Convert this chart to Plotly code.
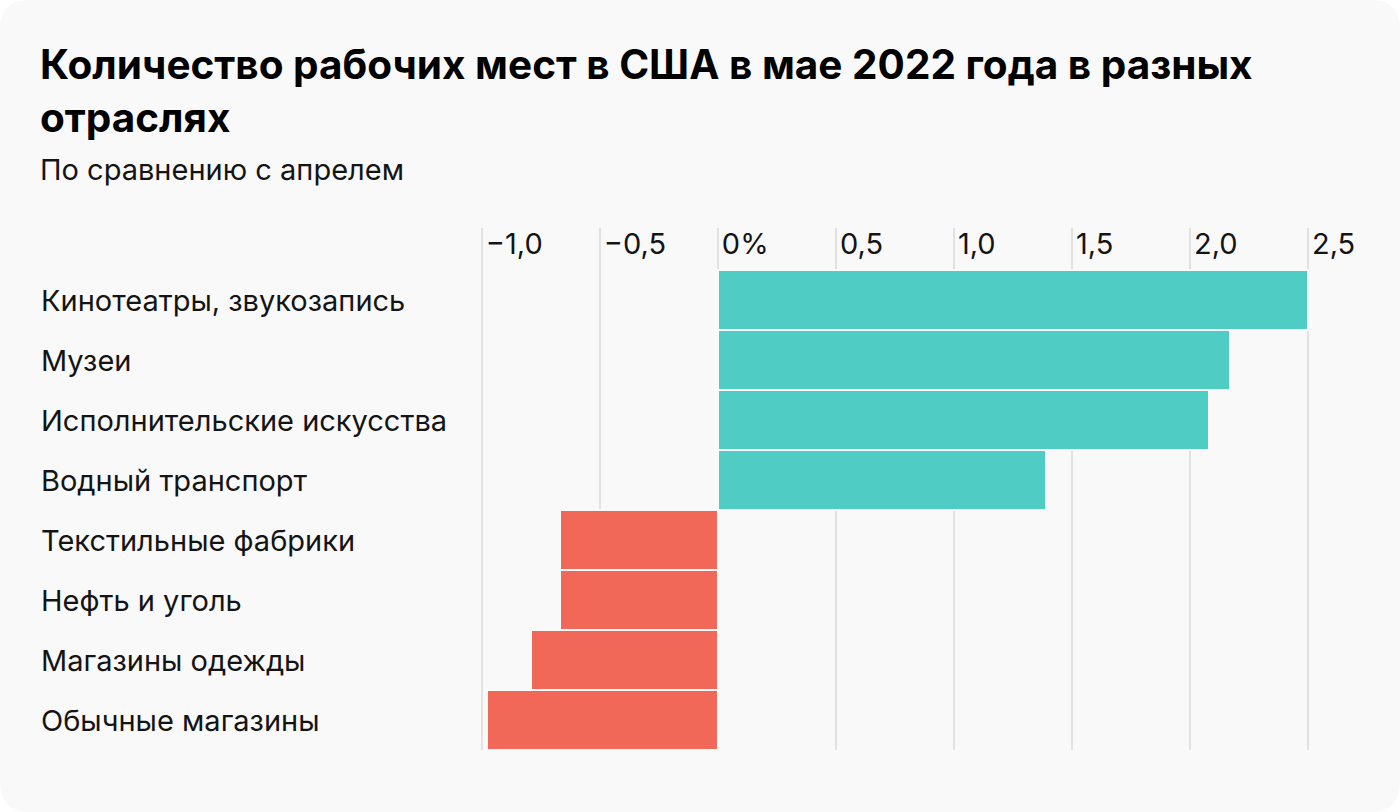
import plotly.graph_objects as go

categories = [
    "Кинотеатры, звукозапись",
    "Музеи",
    "Исполнительские искусства",
    "Водный транспорт",
    "Текстильные фабрики",
    "Нефть и уголь",
    "Магазины одежды",
    "Обычные магазины",
]
values = [2.5, 2.17, 2.08, 1.39, -0.67, -0.67, -0.79, -0.98]
tick_vals = [-1.0, -0.5, 0, 0.5, 1.0, 1.5, 2.0, 2.5]
tick_text = ["−1,0", "−0,5", "0%", "0,5", "1,0", "1,5", "2,0", "2,5"]
title_text = "Количество рабочих мест в США в мае 2022 года в разных<br>отраслях"
subtitle_text = "По сравнению с апрелем"

POS = "#4fcdc4"
NEG = "#f16758"
colors = [POS if v >= 0 else NEG for v in values]

W, H = 1400, 812
L, R, T, B = 470, 33, 228, 62
PW, PH = W - L - R, H - T - B

def px(x):
    return (x - L) / PW

def py(y):
    return (H - B - y) / PH

FONT = "Inter"
TXT = "#141414"

fig = go.Figure()
fig.add_trace(go.Bar(
    x=values, y=categories, orientation="h",
    marker=dict(color=colors, line=dict(color="#fafafa", width=2)),
    hoverinfo="skip",
))

# rounded background
r = 30
x0, y0, x1, y1 = px(0), py(0), px(W), py(H)
rx, ry = r / PW, r / PH
path = (f"M {x0+rx} {y0} L {x1-rx} {y0} Q {x1} {y0} {x1} {y0-ry} "
        f"L {x1} {y1+ry} Q {x1} {y1} {x1-rx} {y1} L {x0+rx} {y1} "
        f"Q {x0} {y1} {x0} {y1+ry} L {x0} {y0-ry} Q {x0} {y0} {x0+rx} {y0} Z")
fig.add_shape(type="path", path=path, xref="paper", yref="paper",
              fillcolor="#f9f9f9", line=dict(width=0), layer="below")

for c in categories:
    fig.add_annotation(x=px(39), xref="paper", y=c, yref="y", text=c,
                       showarrow=False, xanchor="left", yanchor="middle",
                       font=dict(family=FONT, size=29, color=TXT))

fig.add_annotation(x=px(38), xref="paper", y=py(38), yref="paper",
                   text="<b>" + title_text + "</b>", showarrow=False,
                   xanchor="left", yanchor="top", align="left",
                   font=dict(family=FONT, size=40.5, color="#000000"))
fig.add_annotation(x=px(38), xref="paper", y=py(150), yref="paper",
                   text=subtitle_text, showarrow=False,
                   xanchor="left", yanchor="top", align="left",
                   font=dict(family=FONT, size=29, color=TXT))

fig.update_layout(
    width=W, height=H,
    margin=dict(l=L, r=R, t=T, b=B, pad=0),
    paper_bgcolor="#ffffff", plot_bgcolor="rgba(0,0,0,0)",
    bargap=0, showlegend=False,
    xaxis=dict(
        range=[-1.05, 2.75], side="top",
        tickvals=tick_vals, ticktext=tick_text,
        ticklabelposition="inside right", ticklabelshift=4,
        tickfont=dict(family=FONT, size=29, color=TXT),
        showgrid=True, gridcolor="rgba(0,0,0,0.09)", gridwidth=2,
        zeroline=False, showline=False, ticks="",
        layer="above traces", fixedrange=True,
    ),
    yaxis=dict(
        type="category", categoryorder="array", categoryarray=categories,
        range=[7.5, -1.2], showticklabels=False, showgrid=False,
        zeroline=False, showline=False, ticks="", fixedrange=True,
    ),
)

fig.write_html("out.html", config={"displayModeBar": False},
               post_script="document.body.style.margin='0';")
